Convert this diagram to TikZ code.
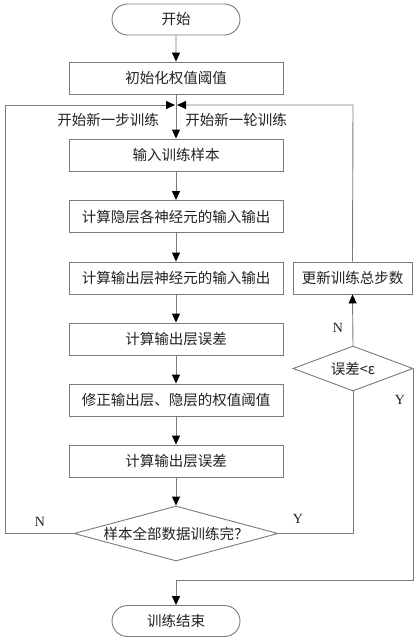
\documentclass[tikz,border=0pt]{standalone}
\usepackage{fontspec}
\setmainfont{Liberation Serif}
\newfontfamily\cjk{Noto Sans CJK SC}
\usetikzlibrary{shapes.geometric,shapes.misc,arrows.meta}
\definecolor{linegray}{HTML}{7A7A7A}
\definecolor{txt}{HTML}{222222}
\tikzset{
  procbox/.style={draw=linegray,line width=0.9pt,rectangle,minimum width=214pt,minimum height=32pt,inner sep=0pt,font=\cjk\fontsize{14.5}{16}\selectfont,text=txt},
  termbox/.style={draw=linegray,line width=0.9pt,rounded rectangle,minimum width=128pt,minimum height=31pt,inner sep=0pt,font=\cjk\fontsize{14.5}{16}\selectfont,text=txt},
  decbox/.style={draw=linegray,line width=0.9pt,diamond,inner sep=0pt,font=\cjk\fontsize{14.5}{16}\selectfont,text=txt},
  conn/.style={draw=linegray,line width=0.9pt},
  arr/.style={conn,-{Triangle[length=9pt,width=8pt,fill=black,color=black]}},
  lbl/.style={font=\cjk\fontsize{14.5}{16}\selectfont,text=txt,inner sep=0pt},
  yn/.style={font=\fontsize{14}{16}\selectfont,text=txt,inner sep=0pt}
}
\begin{document}
\begin{tikzpicture}[x=1pt,y=-1pt]
\useasboundingbox[fill=white] (0,0) rectangle (419,642);
\node[termbox] (start) at (176,19.5) {开始};
\node[procbox] (init) at (176,78) {初始化权值阈值};
\coordinate (jl) at (175,105);
\coordinate (jr) at (177,105);
\node[procbox] (input) at (176,155) {输入训练样本};
\node[procbox] (hid) at (176,216.5) {计算隐层各神经元的输入输出};
\node[procbox] (out) at (176,278) {计算输出层神经元的输入输出};
\node[procbox] (err1) at (176,339) {计算输出层误差};
\node[procbox] (fix) at (176,400) {修正输出层、隐层的权值阈值};
\node[procbox] (err2) at (176,461) {计算输出层误差};
\node[decbox,aspect=3.71,minimum width=204pt,minimum height=55pt] (d1) at (176,533.5) {样本全部数据训练完？};
\node[decbox,aspect=2.67,minimum width=120pt,minimum height=45pt] (d2) at (353,368.5) {误差<ε};
\node[procbox,minimum width=119pt] (upd) at (352.5,278) {更新训练总步数};
\node[termbox] (end) at (176,621) {训练结束};
\coordinate (ll) at (5,533.5);
\coordinate (lt) at (5,105);
\coordinate (rb) at (353,533.5);
\coordinate (rt) at (353,105);
\coordinate (yb) at (413,580);
\coordinate (ym) at (176,580);

\draw[arr] (start) -- (init);
\draw[arr] (init) -- (input);
\draw[arr] (input) -- (hid);
\draw[arr] (hid) -- (out);
\draw[arr] (out) -- (err1);
\draw[arr] (err1) -- (fix);
\draw[arr] (fix) -- (err2);
\draw[arr] (err2) -- (d1);
\draw[arr] (d1.west) -- (ll) -- (lt) -- (jl);
\draw[conn] (d1.east) -- (rb) -- (d2.south);
\draw[arr] (d2.north) -- (upd.south);
\draw[arr] (upd.north) -- (rt) -- (jr);
\draw[arr] (d2.east) -- (d2.east |- yb) -- (ym) -- (end.north);

\node[lbl] (l1) at (108,120) {开始新一步训练};
\node[lbl] (l2) at (236,120) {开始新一轮训练};
\node[yn] (n1) at (40,522) {N};
\node[yn] (y1) at (298,519) {Y};
\node[yn] (n2) at (338,328) {N};
\node[yn] (y2) at (400,400) {Y};
\end{tikzpicture}
\end{document}
